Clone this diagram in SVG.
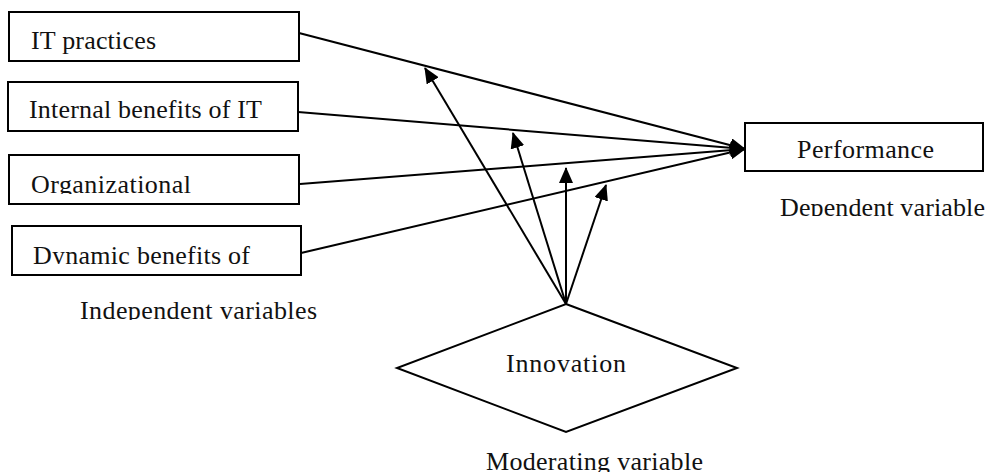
<svg xmlns="http://www.w3.org/2000/svg" width="993" height="472" viewBox="0 0 993 472">
<style>
.box{fill:#fff;stroke:#000;stroke-width:2}
.t{font-family:"Liberation Serif","Times New Roman",serif;font-size:26px;fill:#111}
.c{fill:none;stroke:#000;stroke-width:2;marker-end:url(#ah)}
</style>
<defs>
<marker id="ah" viewBox="0 0 16 14" refX="15" refY="7" markerWidth="16" markerHeight="14" orient="auto" markerUnits="userSpaceOnUse">
<path d="M0,0 L16,7 L0,14 Z" fill="#000"/>
</marker>
<clipPath id="c1"><rect x="0" y="0" width="993" height="194"/></clipPath>
<clipPath id="c2"><rect x="0" y="0" width="993" height="264"/></clipPath>
<clipPath id="c3"><rect x="0" y="0" width="993" height="320"/></clipPath>
<clipPath id="c4"><rect x="0" y="0" width="993" height="216"/></clipPath>
</defs>
<rect width="993" height="472" fill="#fff"/>
<g id="connectors">
<line class="c" x1="299" y1="33" x2="745" y2="149"/>
<line class="c" x1="298" y1="112" x2="745" y2="149"/>
<line class="c" x1="300" y1="184" x2="745" y2="149"/>
<line class="c" x1="301" y1="253" x2="745" y2="149"/>
<line class="c" x1="566" y1="304" x2="425" y2="68"/>
<line class="c" x1="566" y1="304" x2="513" y2="133"/>
<line class="c" x1="566" y1="304" x2="566" y2="168"/>
<line class="c" x1="566" y1="304" x2="606" y2="185"/>
</g>
<g id="n1">
<rect class="box" x="9" y="12" width="290" height="49"/>
<text class="t" x="31" y="48.5" textLength="125" lengthAdjust="spacing">IT practices</text>
</g>
<g id="n2">
<rect class="box" x="8" y="82" width="290" height="49"/>
<text class="t" x="29" y="118" textLength="233" lengthAdjust="spacing">Internal benefits of IT</text>
</g>
<g id="n3">
<rect class="box" x="9" y="155" width="290" height="49"/>
<text class="t" x="31" y="193" textLength="160" lengthAdjust="spacing" clip-path="url(#c1)">Organizational</text>
</g>
<g id="n4">
<rect class="box" x="12" y="226" width="289" height="49"/>
<text class="t" x="33" y="263.5" textLength="217" lengthAdjust="spacing" clip-path="url(#c2)">Dynamic benefits of</text>
</g>
<g id="label-independent">
<text class="t" x="80" y="319" textLength="237" lengthAdjust="spacing" clip-path="url(#c3)">Independent variables</text>
</g>
<g id="n5">
<rect class="box" x="745" y="123" width="238" height="48"/>
<text class="t" x="797" y="158" textLength="137" lengthAdjust="spacing">Performance</text>
</g>
<g id="label-dependent">
<text class="t" x="780" y="216" textLength="205" lengthAdjust="spacing" clip-path="url(#c4)">Dependent variable</text>
</g>
<g id="n6">
<polygon class="box" points="566,304 737,368 566,432 397,368"/>
<text class="t" x="506" y="372" textLength="120" lengthAdjust="spacing">Innovation</text>
</g>
<g id="label-moderating">
<text class="t" x="486" y="470" textLength="217" lengthAdjust="spacing">Moderating variable</text>
</g>
</svg>
